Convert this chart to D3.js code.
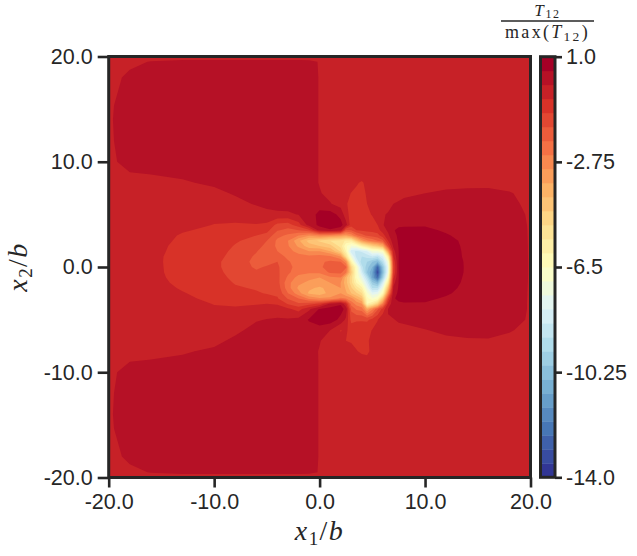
<!DOCTYPE html>
<html>
<head>
<meta charset="utf-8">
<script src="https://cdn.jsdelivr.net/npm/d3@7"></script>
<style>
  html, body { margin: 0; padding: 0; background: #fff; }
  text { font-family: "Liberation Sans", sans-serif; fill: #262626; }
  .math { font-family: "Liberation Serif", serif; }
</style>
</head>
<body>
<div id="my_dataviz"></div>
<script>
// Sample positions of the stress field (not evenly spaced, finer around the crack tip)
const x1Grid = [-20,-19.5,-18,-16,-13,-10,-8,-6,-5,-4,-3,-2,-1,0,1,2,2.5,3,3.5,4,4.5,5,5.5,6,6.5,7,7.5,8,10,12,14,16,18,19.5,20];
const x2Grid = [20,19.5,18,14,10,9,8,7,6,5,4,3.5,3,2.5,2,1.5,1,0.5,0,-0.5,-1,-1.5,-2,-2.5,-3,-3.5,-4,-5,-6,-7,-8,-9,-10,-14,-18,-19.5,-20];

// T12 / max(T12). One row per x2Grid entry, one value per x1Grid entry
const fieldRows = [
  [-.32,-.3,-.25,-.2,-.2,-.2,-.2,-.2,-.2,-.2,-.2,-.2,-.2,-.25,-.25,-.25,-.25,-.25,-.25,-.25,-.25,-.25,-.25,-.25,-.25,-.25,-.25,-.25,-.25,-.25,-.25,-.25,-.25,-.25,-.25],
  [-.3,-.25,-.1,.02,.1,.1,.1,.1,.1,.1,.1,.1,.08,-.02,-.25,-.25,-.25,-.25,-.25,-.25,-.25,-.25,-.25,-.25,-.25,-.25,-.25,-.25,-.25,-.25,-.25,-.25,-.25,-.25,-.25],
  [-.25,-.1,.1,.22,.25,.25,.25,.25,.25,.25,.25,.25,.15,-.02,-.25,-.25,-.25,-.25,-.25,-.25,-.25,-.25,-.25,-.25,-.25,-.25,-.25,-.25,-.25,-.25,-.25,-.25,-.25,-.25,-.25],
  [-.2,.05,.2,.25,.25,.25,.25,.25,.25,.25,.25,.25,.15,-.02,-.25,-.25,-.25,-.25,-.25,-.25,-.25,-.25,-.25,-.25,-.25,-.25,-.25,-.25,-.25,-.25,-.25,-.25,-.25,-.25,-.25],
  [-.25,-.05,.2,.2,.25,.25,.25,.25,.25,.25,.25,.25,.15,-.02,-.25,-.25,-.25,-.25,-.25,-.25,-.25,-.25,-.25,-.25,-.25,-.25,-.25,-.25,-.25,-.25,-.25,-.25,-.25,-.25,-.25],
  [-.28,-.2,0,.04,.1,.18,.22,.25,.25,.25,.25,.25,.15,-.02,-.25,-.25,-.25,-.25,-.25,-.25,-.23,-.22,-.22,-.22,-.2,-.2,-.2,-.22,-.25,-.25,-.25,-.25,-.25,-.25,-.25],
  [-.3,-.27,-.2,-.16,-.05,.08,.15,.22,.25,.25,.25,.25,.15,-.02,-.25,-.25,-.25,-.25,-.46,-.55,-.4,-.28,-.25,-.23,-.22,-.2,-.21,-.22,-.22,-.22,-.22,-.22,-.22,-.25,-.25],
  [-.3,-.28,-.25,-.22,-.15,-.12,.05,.15,.2,.22,.25,.25,.2,.03,-.12,-.22,-.33,-.52,-.58,-.6,-.46,-.33,-.28,-.24,-.2,-.18,-.14,-.1,0,.12,.2,.22,.05,-.15,-.25],
  [-.3,-.28,-.28,-.26,-.22,-.22,-.15,.05,.12,.15,.2,.25,.3,.27,.03,-.2,-.48,-.56,-.6,-.6,-.5,-.4,-.3,-.22,-.1,0,.05,.12,.15,.25,.3,.3,.2,-.1,-.2],
  [-.3,-.3,-.3,-.3,-.32,-.38,-.38,-.27,-.12,-.08,-.08,.02,.25,.65,.72,.35,-.3,-.7,-.6,-.56,-.56,-.48,-.35,-.03,.03,.15,.22,.3,.3,.35,.36,.33,.28,0,-.12],
  [-.3,-.3,-.31,-.33,-.4,-.51,-.53,-.52,-.6,-1.15,-1.25,-.7,.2,.62,.75,.68,.2,-.8,-.75,-.7,-.7,-.62,-.5,-.03,.17,.35,.45,.47,.48,.44,.4,.35,.3,.05,-.1],
  [-.3,-.3,-.32,-.35,-.47,-.57,-.65,-.7,-.85,-1.45,-1.65,-1.5,-1.1,.25,.45,.25,-1.5,-1.5,-1,-.9,-.85,-.85,-.7,-.25,.1,.48,.56,.56,.55,.47,.42,.36,.3,.07,-.1],
  [-.3,-.3,-.32,-.36,-.53,-.65,-.78,-1,-1.15,-1.85,-2.1,-2.5,-2.9,-2.6,-2.8,-3,-3.2,-2.8,-2.1,-1.7,-1.4,-1.3,-1.2,-.7,-.1,.4,.56,.65,.6,.52,.43,.37,.3,.08,-.1],
  [-.3,-.3,-.32,-.37,-.56,-.7,-.95,-1.15,-1.5,-2.1,-2.5,-3.4,-4.2,-4.6,-5,-5.2,-5.6,-5.6,-4.3,-3.2,-2.6,-2.3,-2,-1.6,-.5,.3,.55,.68,.62,.58,.44,.38,.3,.09,-.1],
  [-.3,-.3,-.32,-.38,-.6,-.75,-1.03,-1.3,-1.65,-2.1,-2.45,-3.1,-3.8,-4,-4.3,-5.2,-6.4,-7,-6.8,-5.8,-5.2,-4.6,-4.2,-3.6,-1.2,.1,.53,.7,.65,.62,.44,.38,.3,.1,-.1],
  [-.3,-.3,-.32,-.39,-.62,-.8,-1.1,-1.47,-1.75,-2,-2.3,-2.7,-3,-3,-3.5,-4.6,-6,-8.3,-8.6,-8.4,-8,-7,-7,-6.6,-3.2,-.2,.5,.72,.68,.63,.45,.38,.3,.1,-.1],
  [-.3,-.3,-.32,-.4,-.65,-.85,-1.15,-1.58,-1.75,-1.8,-2.1,-2.3,-2.4,-2.3,-2.4,-3,-5,-7.2,-8.7,-9,-8.8,-8.5,-8.8,-8,-5.6,-.5,.5,.75,.7,.65,.45,.38,.3,.11,-.1],
  [-.3,-.3,-.32,-.4,-.66,-.9,-1.2,-1.65,-1.65,-1.5,-1.95,-2.2,-2.2,-2.1,-1.9,-2,-2.8,-6,-8,-9.3,-9.5,-10,-10.5,-9,-7,-.9,.52,.78,.75,.68,.46,.38,.3,.12,-.1],
  [-.3,-.3,-.32,-.4,-.65,-.9,-1.2,-1.58,-1.45,-1.42,-1.85,-2.2,-2.2,-2.1,-1.75,-1.55,-1.9,-4.8,-6.6,-8.8,-9.8,-10.5,-12.6,-10,-7.5,-1.1,.52,.8,.8,.7,.46,.38,.3,.12,-.1],
  [-.3,-.3,-.32,-.4,-.64,-.88,-1.15,-1.42,-1.35,-1.4,-1.9,-2.3,-2.4,-2.4,-1.9,-1.85,-2.4,-4.4,-6.5,-8.3,-10,-11,-13.3,-10.3,-7.4,-1,.5,.78,.78,.69,.46,.38,.3,.12,-.1],
  [-.3,-.3,-.31,-.39,-.62,-.83,-1.1,-1.25,-1.25,-1.35,-2.1,-2.7,-2.9,-3,-2.6,-2.5,-3.8,-4.8,-6.5,-7.5,-9,-11,-12.5,-9.6,-6.6,-.6,.5,.75,.75,.66,.45,.37,.3,.11,-.1],
  [-.3,-.3,-.31,-.38,-.58,-.78,-1.03,-1.12,-1.15,-1.3,-2.35,-2.9,-3.1,-3.2,-3,-3,-3.8,-4.8,-6,-6.8,-8.2,-9.8,-10.5,-8.2,-5.4,-.2,.52,.72,.7,.63,.44,.37,.3,.1,-.1],
  [-.3,-.3,-.31,-.37,-.53,-.7,-.95,-1.04,-1.08,-1.2,-2.3,-3.1,-3.4,-3.6,-3.3,-3,-3.6,-4.4,-5.2,-5.8,-7.5,-9,-9,-7.2,-4,.1,.55,.68,.65,.58,.43,.36,.3,.08,-.1],
  [-.3,-.3,-.31,-.36,-.48,-.63,-.8,-.95,-1.03,-1.1,-2,-2.8,-3.6,-3.8,-3.3,-3,-3.4,-4,-4.4,-5,-6.8,-7.8,-7.6,-6.3,-2.6,.35,.56,.65,.6,.53,.42,.36,.3,.07,-.1],
  [-.3,-.3,-.31,-.35,-.44,-.57,-.66,-.72,-.8,-.95,-1.55,-2,-2.6,-2.9,-2.9,-2.4,-2.5,-2.8,-3.5,-4,-6.3,-6.9,-6.5,-4.3,-1.1,.47,.56,.6,.55,.47,.4,.35,.29,.06,-.1],
  [-.3,-.3,-.3,-.34,-.4,-.51,-.54,-.52,-.5,-.55,-1.05,-1.4,-1.2,-.9,.1,.45,-.4,-2.2,-2.7,-3,-6,-5.5,-4.5,-2.5,-.35,.3,.45,.47,.48,.42,.38,.33,.28,.05,-.1],
  [-.3,-.3,-.3,-.33,-.36,-.46,-.46,-.4,-.3,-.25,-.4,-.7,-.1,.55,.7,.7,.35,-1.6,-2.1,-2.2,-3.5,-2.6,-1.6,-.8,.02,.18,.32,.35,.42,.38,.36,.32,.28,.05,-.1],
  [-.3,-.3,-.3,-.3,-.3,-.34,-.3,-.04,.02,.05,.05,.15,.55,.75,.8,.35,-.1,-1.15,-1.05,-1.05,-1.1,-.85,-.52,-.13,-.02,-.02,.05,.07,.25,.28,.3,.3,.22,0,-.12],
  [-.3,-.28,-.28,-.26,-.24,-.25,-.1,.15,.2,.22,.2,.3,.25,.3,0,-.52,-.42,-.7,-.75,-.7,-.62,-.48,-.36,-.2,-.16,-.12,-.12,-.1,-.02,.1,.15,.15,.05,-.12,-.2],
  [-.3,-.28,-.25,-.22,-.15,-.12,.1,.2,.25,.25,.25,.25,.12,.02,-.15,-.42,-.5,-.55,-.6,-.65,-.52,-.46,-.33,-.22,-.2,-.2,-.2,-.2,-.2,-.1,-.05,-.04,-.15,-.22,-.25],
  [-.3,-.27,-.2,-.16,-.05,.08,.2,.25,.25,.25,.25,.25,.12,-.02,-.25,-.25,-.27,-.33,-.48,-.56,-.58,-.4,-.3,-.23,-.22,-.22,-.22,-.22,-.22,-.22,-.2,-.2,-.22,-.25,-.25],
  [-.28,-.2,0,.04,.1,.2,.25,.25,.25,.25,.25,.25,.15,-.02,-.25,-.25,-.25,-.25,-.27,-.33,-.37,-.26,-.25,-.25,-.25,-.25,-.25,-.25,-.25,-.25,-.25,-.25,-.25,-.25,-.25],
  [-.25,-.05,.2,.2,.25,.25,.25,.25,.25,.25,.25,.25,.15,-.02,-.25,-.25,-.25,-.25,-.25,-.25,-.25,-.25,-.25,-.25,-.25,-.25,-.25,-.25,-.25,-.25,-.25,-.25,-.25,-.25,-.25],
  [-.2,.05,.2,.25,.25,.25,.25,.25,.25,.25,.25,.25,.15,-.02,-.25,-.25,-.25,-.25,-.25,-.25,-.25,-.25,-.25,-.25,-.25,-.25,-.25,-.25,-.25,-.25,-.25,-.25,-.25,-.25,-.25],
  [-.25,-.1,.1,.22,.25,.25,.25,.25,.25,.25,.25,.25,.15,-.02,-.25,-.25,-.25,-.25,-.25,-.25,-.25,-.25,-.25,-.25,-.25,-.25,-.25,-.25,-.25,-.25,-.25,-.25,-.25,-.25,-.25],
  [-.3,-.25,-.1,.02,.1,.1,.1,.1,.1,.1,.1,.1,.08,-.02,-.25,-.25,-.25,-.25,-.25,-.25,-.25,-.25,-.25,-.25,-.25,-.25,-.25,-.25,-.25,-.25,-.25,-.25,-.25,-.25,-.25],
  [-.32,-.3,-.25,-.2,-.2,-.2,-.2,-.2,-.2,-.2,-.2,-.2,-.2,-.25,-.25,-.25,-.25,-.25,-.25,-.25,-.25,-.25,-.25,-.25,-.25,-.25,-.25,-.25,-.25,-.25,-.25,-.25,-.25,-.25,-.25]
];

const axisTicks = [-20, -10, 0, 10, 20];
const barTicks = [1, -2.75, -6.5, -10.25, -14];
const barTickLabels = ["1.0", "-2.75", "-6.5", "-10.25", "-14.0"];
const cmapColors = ["#313695","#4575b4","#74add1","#abd9e9","#e0f3f8","#ffffbf","#fee090","#fdae61","#f46d43","#d73027","#a50026"];

// Contour levels, 30 bands from -14 to 1
const levelMin = -14, levelStep = 0.5, nBands = 30;
const levels = d3.range(nBands).map(i => levelMin + i * levelStep);
const cmap = d3.piecewise(d3.interpolateRgb, cmapColors);
const bandColor = i => cmap(i / (nBands - 1));

const ink = "#262626";
const svgW = 637, svgH = 556;
const plot = { left: 108.7, right: 530.5, top: 56.5, bottom: 477.5 };
const bar = { left: 540.5, right: 555, top: 56.7, bottom: 477.3 };

const svg = d3.select("#my_dataviz")
  .append("svg")
    .attr("width", svgW)
    .attr("height", svgH)
    .style("display", "block");

const x = d3.scaleLinear().domain([-20, 20]).range([plot.left, plot.right]);
const y = d3.scaleLinear().domain([-20, 20]).range([plot.bottom, plot.top]);
const barY = d3.scaleLinear().domain([-14, 1]).range([bar.bottom, bar.top]);

// d3.contours works in cell units with samples at i + 0.5, so map those back to the sample positions
const nx = x1Grid.length, ny = x2Grid.length;
const cellToX = d3.scaleLinear()
  .domain([0, ...x1Grid.map((d, i) => i + 0.5), nx])
  .range([x1Grid[0], ...x1Grid, x1Grid[nx - 1]]);
const cellToY = d3.scaleLinear()
  .domain([0, ...x2Grid.map((d, i) => i + 0.5), ny])
  .range([x2Grid[0], ...x2Grid, x2Grid[ny - 1]]);

const project = d3.geoTransform({
  point(px, py) { this.stream.point(x(cellToX(px)), y(cellToY(py))); }
});
const path = d3.geoPath(project);

const contours = d3.contours()
  .size([nx, ny])
  .thresholds(levels)(fieldRows.flat());

// Filled bands, low to high, each one painted over the one before
svg.append("g")
  .selectAll("path")
  .data(contours)
  .join("path")
    .attr("d", path)
    .attr("fill", (d, i) => bandColor(i));

// Axes
const xAxis = svg.append("g")
    .attr("transform", `translate(0,${plot.bottom})`)
    .call(d3.axisBottom(x).tickValues(axisTicks).tickFormat(d => d.toFixed(1)).tickSize(10).tickPadding(6));
const yAxis = svg.append("g")
    .attr("transform", `translate(${plot.left},0)`)
    .call(d3.axisLeft(y).tickValues(axisTicks).tickFormat(d => d.toFixed(1)).tickSize(11).tickPadding(5));
const barAxis = svg.append("g")
    .attr("transform", `translate(${bar.right},0)`)
    .call(d3.axisRight(barY).tickValues(barTicks).tickFormat((d, i) => barTickLabels[i]).tickSize(7).tickPadding(4));

[xAxis, yAxis, barAxis].forEach(g => {
  g.select(".domain").remove();
  g.selectAll(".tick line").attr("stroke", ink).attr("stroke-width", 2.6);
  g.selectAll(".tick text").attr("font-family", null).style("font-size", "21.5px").attr("fill", ink);
});

// Colorbar
svg.append("g")
  .selectAll("rect")
  .data(levels)
  .join("rect")
    .attr("x", bar.left)
    .attr("width", bar.right - bar.left)
    .attr("y", d => barY(d + levelStep))
    .attr("height", d => barY(d) - barY(d + levelStep) + 0.4)
    .attr("fill", (d, i) => bandColor(i));

// Frames
svg.append("rect")
    .attr("x", plot.left).attr("y", plot.top)
    .attr("width", plot.right - plot.left).attr("height", plot.bottom - plot.top)
    .attr("fill", "none").attr("stroke", ink).attr("stroke-width", 3);
svg.append("rect")
    .attr("x", bar.left).attr("y", bar.top)
    .attr("width", bar.right - bar.left).attr("height", bar.bottom - bar.top)
    .attr("fill", "none").attr("stroke", ink).attr("stroke-width", 3);

// Math labels
function mathLabel(parent, sub) {
  const t = parent.append("text").attr("class", "math").attr("text-anchor", "middle")
      .style("font-size", "28px").style("letter-spacing", "1.4px");
  t.append("tspan").style("font-style", "italic").text("x");
  t.append("tspan").attr("dy", 5).style("font-size", "19px").text(sub);
  t.append("tspan").attr("dy", -5).text("/");
  t.append("tspan").style("font-style", "italic").text("b");
  return t;
}
mathLabel(svg, "1").attr("transform", `translate(319.5,540)`);
mathLabel(svg, "2").attr("transform", `translate(27,267) rotate(-90)`);

// Colorbar title as a fraction
const frac = svg.append("g").attr("class", "math");
const num = frac.append("text").attr("class", "math").attr("x", 547.5).attr("y", 16).attr("text-anchor", "middle")
    .style("font-size", "17px").style("letter-spacing", "1.6px");
num.append("tspan").style("font-style", "italic").text("T");
num.append("tspan").attr("dy", 2).style("font-size", "12px").text("12");
frac.append("line").attr("x1", 501).attr("x2", 594).attr("y1", 21).attr("y2", 21).attr("stroke", ink).attr("stroke-width", 1.4);
const den = frac.append("text").attr("class", "math").attr("x", 547.5).attr("y", 38).attr("text-anchor", "middle")
    .style("font-size", "18px").style("letter-spacing", "2.3px");
den.append("tspan").text("max(");
den.append("tspan").style("font-style", "italic").text("T");
den.append("tspan").attr("dy", 3).style("font-size", "13.5px").text("12");
den.append("tspan").attr("dy", -3).text(")");
</script>
</body>
</html>
